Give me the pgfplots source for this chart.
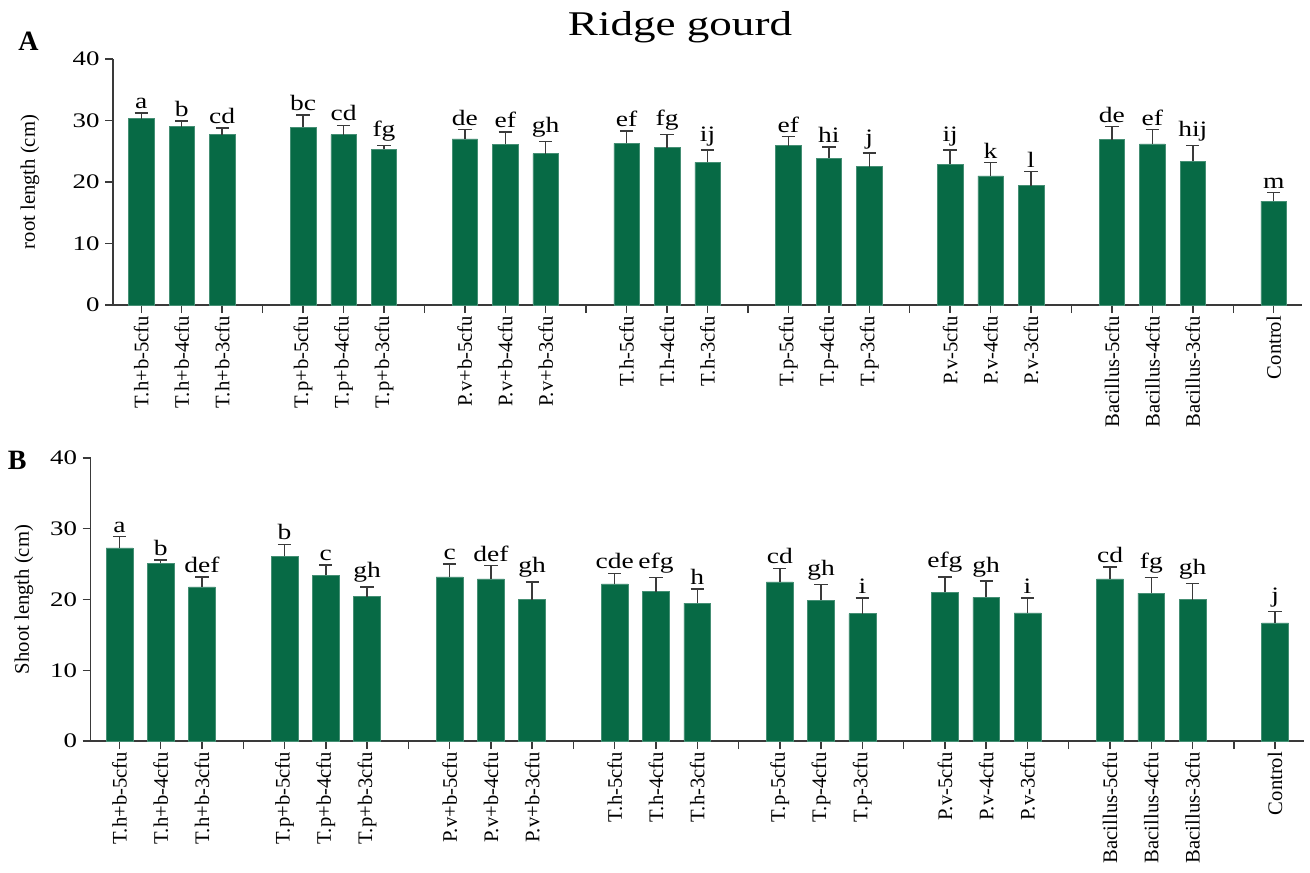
\documentclass[border=0pt]{standalone}
\usepackage{pgfplots}
\usepackage{pgfplotstable}
\usepackage{fontspec}
\setmainfont{Liberation Serif}
\pgfplotsset{compat=1.18}
\definecolor{barcol}{HTML}{076A45}
\definecolor{axcol}{HTML}{3A3A3A}

\pgfplotstableread{
x y err lab
0 30.3 0.9 a
1 29.0 0.9 b
2 27.7 1.1 cd
4 28.9 2.0 bc
5 27.7 1.5 cd
6 25.3 0.6 fg
8 27.0 1.5 de
9 26.1 2.0 ef
10 24.6 2.0 gh
12 26.3 2.0 ef
13 25.6 2.1 fg
14 23.2 2.0 ij
16 25.9 1.5 ef
17 23.9 1.8 hi
18 22.5 2.2 j
20 22.9 2.3 ij
21 21.0 2.2 k
22 19.4 2.3 l
24 26.9 2.1 de
25 26.2 2.3 ef
26 23.4 2.5 hij
28 16.9 1.4 m
}\rootdata

\pgfplotstableread{
x y err lab
0 27.3 1.6 a
1 25.1 0.5 b
2 21.8 1.4 def
4 26.1 1.7 b
5 23.4 1.5 c
6 20.4 1.4 gh
8 23.2 1.8 c
9 22.9 1.9 def
10 20.0 2.5 gh
12 22.2 1.5 cde
13 21.1 2.0 efg
14 19.5 2.0 h
16 22.5 1.9 cd
17 19.9 2.2 gh
18 18.0 2.2 i
20 21.0 2.2 efg
21 20.3 2.3 gh
22 18.1 2.1 i
24 22.9 1.7 cd
25 20.9 2.2 fg
26 20.0 2.3 gh
28 16.7 1.6 j
}\shootdata

\pgfplotsset{
  panel/.style={
    scale only axis,
    axis lines=left,
    axis line style={-, axcol, line width=1.1pt},
    tick style={axcol, line width=1.1pt},
    tick align=outside,
    major tick length=6pt,
    ymin=0, ymax=40,
    ytick={0,10,20,30,40},
    xmin=-0.7, xmax=28.7,
    xtick={0,...,28},
    xticklabels={T.h+b-5cfu,T.h+b-4cfu,T.h+b-3cfu,,T.p+b-5cfu,T.p+b-4cfu,T.p+b-3cfu,,P.v+b-5cfu,P.v+b-4cfu,P.v+b-3cfu,,T.h-5cfu,T.h-4cfu,T.h-3cfu,,T.p-5cfu,T.p-4cfu,T.p-3cfu,,P.v-5cfu,P.v-4cfu,P.v-3cfu,,Bacillus-5cfu,Bacillus-4cfu,Bacillus-3cfu,,Control},
    xticklabel style={rotate=90, anchor=east, font=\fontsize{15.5}{16}\selectfont, inner sep=2pt},
    yticklabel style={font=\fontsize{15.5}{16}\selectfont, xscale=1.3, inner sep=3pt},
    /pgf/number format/assume math mode=true,
    ylabel style={font=\fontsize{15.5}{16}\selectfont, anchor=center},
    clip=false,
  },
  bars/.style={
    ybar, bar width=#1, fill=barcol, draw=barcol!75!white, line width=0.4pt,
    error bars/.cd, y dir=plus, y explicit,
    error bar style={axcol, line width=1.1pt},
    error mark options={rotate=90, axcol, line width=1.1pt, mark size=5pt},
  },
  letters/.style={
    only marks, mark=none,
    nodes near coords, point meta=explicit symbolic,
    every node near coord/.append style={font=\fontsize{16.5}{18}\selectfont, xscale=1.25, anchor=south, inner sep=3pt, black},
  },
}

\begin{document}
\begin{tikzpicture}
\path[use as bounding box] (0,0) rectangle (982.5pt,-654pt);

\node[anchor=base, font=\fontsize{26}{28}\selectfont, xscale=1.3] at (510pt,-26.25pt) {Ridge gourd};
\node[font=\fontsize{21}{22}\selectfont\bfseries] at (21.4pt,-30.75pt) {A};
\node[font=\fontsize{21}{22}\selectfont\bfseries] at (13pt,-345pt) {B};

\begin{axis}[panel,
  at={(84.75pt,-228.75pt)}, anchor=south west,
  width=891.75pt, height=184.5pt,
  ylabel={root length (cm)},
  ylabel style={at={(axis description cs:-0.0698,0.5)}},
]
\addplot[bars=0.63] table[x=x, y=y, y error=err] {\rootdata};
\addplot[letters] table[x=x, y expr=\thisrow{y}+\thisrow{err}, meta=lab] {\rootdata};
\end{axis}

\begin{axis}[panel,
  at={(67.9pt,-555.75pt)}, anchor=south west,
  width=910.1pt, height=212.25pt,
  ylabel={Shoot length (cm)},
  ylabel style={at={(axis description cs:-0.0548,0.5)}},
]
\addplot[bars=0.65] table[x=x, y=y, y error=err] {\shootdata};
\addplot[letters] table[x=x, y expr=\thisrow{y}+\thisrow{err}, meta=lab] {\shootdata};
\end{axis}
\end{tikzpicture}
\end{document}
